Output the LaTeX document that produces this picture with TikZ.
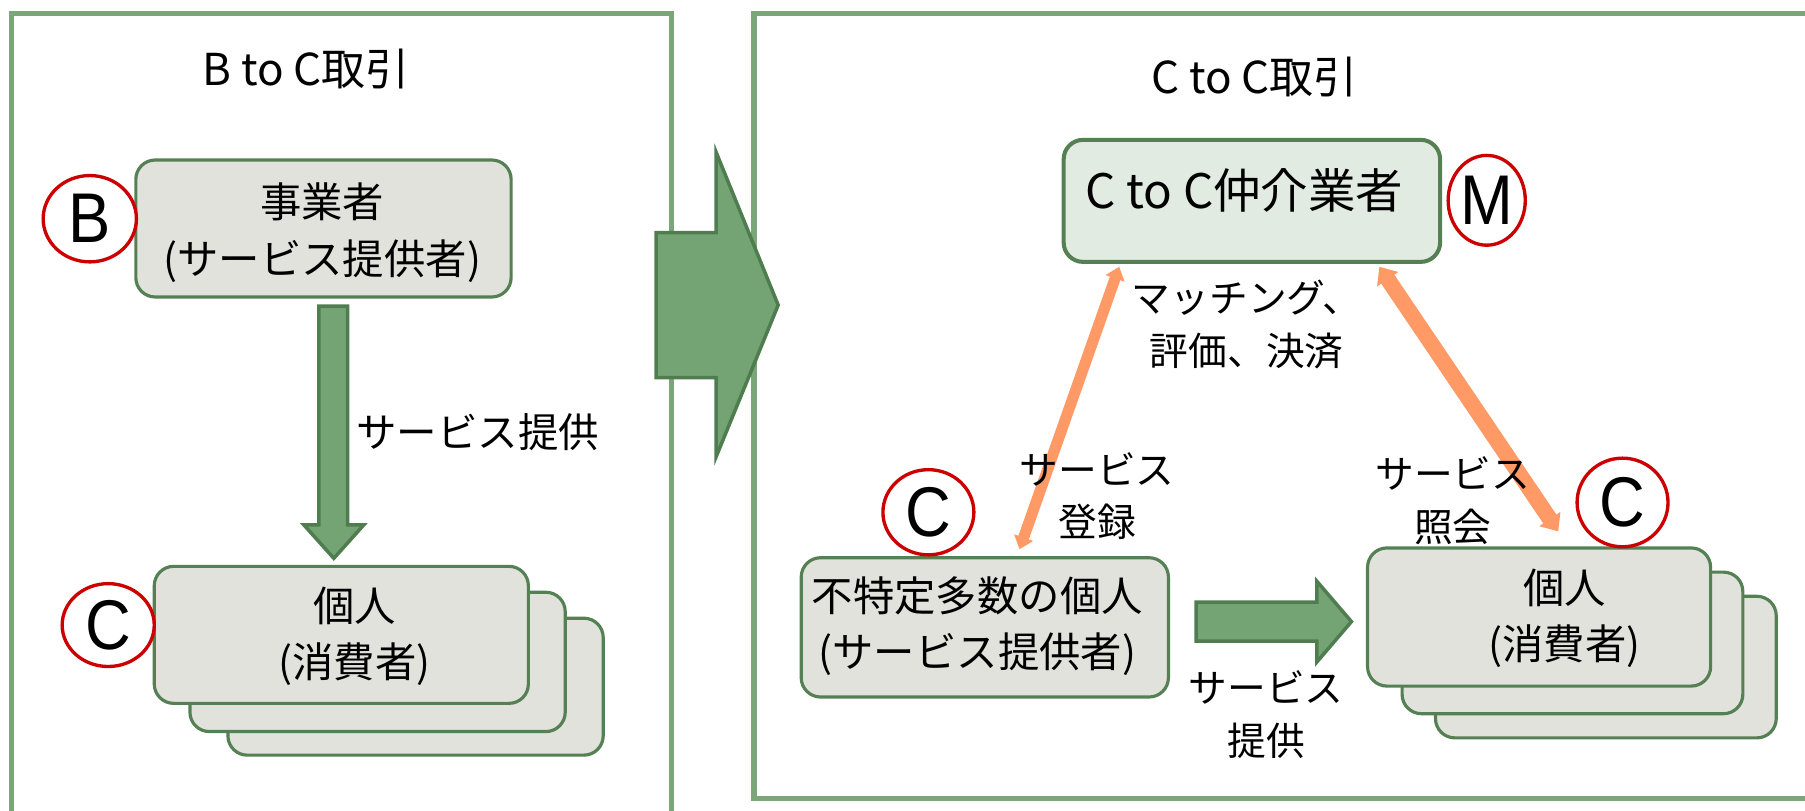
\documentclass[tikz,border=0pt]{standalone}
\usepackage{fontspec}
\setmainfont{Noto Sans CJK JP}
\newfontfamily\latinf[FakeStretch=0.9]{Liberation Sans}
\usetikzlibrary{shapes.geometric,arrows.meta,calc}
\definecolor{panelg}{RGB}{122,166,122}
\definecolor{boxg}{RGB}{84,128,84}
\definecolor{boxfill}{RGB}{225,226,220}
\definecolor{mfill}{RGB}{226,235,226}
\definecolor{arrowfill}{RGB}{116,164,116}
\definecolor{arrowline}{RGB}{80,125,80}
\definecolor{orng}{RGB}{255,153,102}
\definecolor{badgered}{RGB}{204,0,0}
\newdimen\U \U=0.023cm
\tikzset{
  panel/.style={draw=panelg,line width=2.9pt},
  card/.style={rectangle,draw=boxg,fill=boxfill,line width=1.8pt,rounded corners=11pt,inner sep=0pt},
  mcard/.style={rectangle,draw=boxg,fill=mfill,line width=2.3pt,rounded corners=11pt,inner sep=0pt},
  cardtext/.style={align=center,inner sep=0pt,font=\fontsize{23.5}{32}\selectfont},
  lbl/.style={align=center,inner sep=0pt,font=\fontsize{22}{30}\selectfont},
  ttl/.style={inner sep=0pt,anchor=base,font=\fontsize{25}{30}\selectfont},
  badge/.style={ellipse,draw=badgered,fill=white,line width=1.9pt,inner sep=0pt,font=\latinf\fontsize{40}{40}\selectfont},
  blockarrow/.style={fill=arrowfill,draw=arrowline,line width=2pt,line join=miter},
  thinorange/.style={draw=orng,line width=6.3pt,{Triangle[length=7pt,width=11pt]}-{Triangle[length=7pt,width=11pt]}},
  thickorange/.style={draw=orng,line width=9pt,{Triangle[length=8.5pt,width=14pt]}-{Triangle[length=8.5pt,width=14pt]}}
}
\begin{document}
\begin{tikzpicture}[x=0.023cm,y=-0.023cm]
\useasboundingbox (0,0) rectangle (1568,704);
\clip (0,0) rectangle (1568,704);
\fill[white] (0,0) rectangle (1568,704);

% panels
\draw[panel] (10,12) rectangle (583,760);
\draw[panel] (655,12) rectangle (1620,694);

% titles
\node[ttl] (tbc) at (266,74) {B to C取引};
\node[ttl] (tcc) at (1090,81) {C to C取引};

% left side
\node[card,minimum width=326\U,minimum height=119\U] (bbox) at (281,198.5) {};
\node[cardtext] (btext) at (280,202) {事業者\\(サービス提供者)};
\node[badge,minimum width=81\U,minimum height=75\U] (bcirc) at (78,190) {B};

\draw[blockarrow] (277,266) -- (302,266) -- (302,456) -- (316,456) -- (290,485) -- (264,456) -- (277,456) -- cycle;
\node[lbl,font=\fontsize{23}{30}\selectfont] (lprov) at (415,375) {サービス提供};

\node[card,minimum width=326\U,minimum height=119\U] (lc3) at (361,596.5) {};
\node[card,minimum width=326\U,minimum height=121\U] (lc2) at (328,575) {};
\node[card,minimum width=325\U,minimum height=119\U] (lc1) at (296.5,551.5) {};
\node[cardtext] (lctext) at (308,553) {個人\\(消費者)};
\node[badge,minimum width=80\U,minimum height=72\U] (lccirc) at (94,543) {C};

% big arrow
\draw[blockarrow] (570,202) -- (622,202) -- (622,132) -- (676,265) -- (622,397) -- (622,328) -- (570,328) -- cycle;

% right side
\node[mcard,minimum width=327\U,minimum height=106\U] (mbox) at (1087.5,174.5) {};
\node[ttl,font=\fontsize{27}{30}\selectfont] (mtext) at (1081,181) {C to C仲介業者};
\node[badge,minimum width=67\U,minimum height=78\U,font=\latinf\fontsize{40}{40}\selectfont] (mcirc) at (1291.5,174) {M};

\node[card,minimum width=319\U,minimum height=121\U] (prov) at (855.5,545) {};
\node[cardtext] (provtext) at (849,544) {不特定多数の個人\\(サービス提供者)};
\node[badge,minimum width=79\U,minimum height=74\U] (pcirc) at (806.5,445) {C};

\node[card,minimum width=296\U,minimum height=123\U] (rc3) at (1395,579.5) {};
\node[card,minimum width=296\U,minimum height=123\U] (rc2) at (1366,558.5) {};
\node[card,minimum width=298\U,minimum height=120\U] (rc1) at (1337,536) {};
\node[cardtext] (rctext) at (1359,537) {個人\\(消費者)};

\draw[blockarrow] (1039,523) -- (1144,523) -- (1144,505) -- (1174,540) -- (1144,575) -- (1144,557) -- (1039,557) -- cycle;

% orange connectors
\coordinate (oa) at ($(mbox.south west)+(50,2.5)$);
\coordinate (ob) at ($(prov.north west)+(191,-6)$);
\coordinate (oc) at ($(mbox.south west)+(276,2.5)$);
\coordinate (od) at ($(rc1.north west)+(167,-13)$);
\draw[thinorange] (oa) -- (ob);
\draw[thickorange] (oc) -- (od);

\node[badge,minimum width=79\U,minimum height=77\U] (rcirc) at (1409.5,436.5) {C};

% labels
\node[lbl] (lmatch) at (1083,282) {マッチング、\\評価、決済};
\node[lbl] (lreg) at (953,431) {サービス\\登録};
\node[lbl] (lref) at (1262,435) {サービス\\照会};
\node[lbl] (lsvc) at (1100,621) {サービス\\提供};
\end{tikzpicture}
\end{document}
